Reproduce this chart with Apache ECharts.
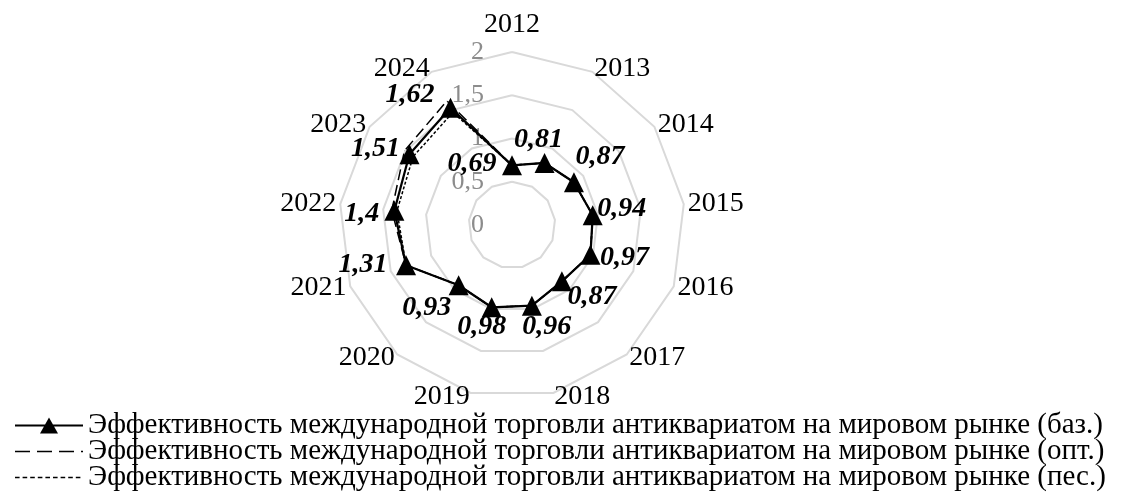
<!DOCTYPE html>
<html>
<head>
<meta charset="utf-8">
<script src="https://cdn.jsdelivr.net/npm/echarts@6/dist/echarts.min.js"></script>
<style>
  html, body { margin: 0; background: #fff; }
  #chart { width: 1122px; height: 492px; }
</style>
</head>
<body>
<div id="chart"></div>
<script>
// годы по осям (по часовой стрелке от верха)
const years = ['2012', '2013', '2014', '2015', '2016', '2017', '2018', '2019', '2020', '2021', '2022', '2023', '2024'];
const seriesNames = [
  'Эффективность международной торговли антиквариатом на мировом рынке (баз.)',
  'Эффективность международной торговли антиквариатом на мировом рынке (опт.)',
  'Эффективность международной торговли антиквариатом на мировом рынке (пес.)'
];
const valBase = [0.69, 0.81, 0.87, 0.94, 0.97, 0.87, 0.96, 0.98, 0.93, 1.31, 1.37, 1.44, 1.53];
const valOpt  = [0.69, 0.81, 0.87, 0.94, 0.97, 0.87, 0.96, 0.98, 0.93, 1.31, 1.40, 1.51, 1.62];
const valPes  = [0.69, 0.81, 0.87, 0.94, 0.97, 0.87, 0.96, 0.98, 0.93, 1.31, 1.34, 1.39, 1.47];
const axisMax = 2;

const CX = 512, CY = 225;
const FONT = '"Liberation Serif", "Times New Roman", serif';

// echarts кладёт оси против часовой — переставляем
const order = years.map((_, i) => (years.length - i) % years.length);
const pick = arr => order.map(i => arr[i]);

// смещения подписей от точки (по часовой, как years)
const labelOffsets = [[-40, -2], [-6, -23], [26, -25], [29, -6], [34, 3], [30, 15], [15, 21],
  [-10, 19], [-32, 23], [-43, 0], [-30, 3], [-29, -2], [-37, -6]];

// иконки легенды 68x17
const dot = 'M0,0h0.05v0.05h-0.05Z M67.95,16.95h0.05v0.05h-0.05Z ';
const iconBase = dot + 'M0,7.6H68V9.4H0Z M25,16.5L34,0.5L43,16.5Z';
const iconOpt = dot + 'M0,7.75h15v1.5h-15Z M22,7.75h15v1.5h-15Z M44,7.75h15v1.5h-15Z M66,7.75h2v1.5h-2Z';
let iconPes = dot;
for (let x = 0; x < 68; x += 7.6) iconPes += 'M' + x + ',7.8h4.6v1.4h-4.6Z ';

const chart = echarts.init(document.getElementById('chart'));

chart.setOption({
  animation: false,
  textStyle: { fontFamily: FONT },
  legend: {
    orient: 'vertical',
    left: 10,
    top: 406,
    height: 120,
    itemWidth: 68,
    itemHeight: 17,
    itemGap: -3,
    selectedMode: false,
    textStyle: { fontSize: 29, color: '#000', fontFamily: FONT },
    data: [
      { name: seriesNames[0], icon: 'path://' + iconBase },
      { name: seriesNames[1], icon: 'path://' + iconOpt },
      { name: seriesNames[2], icon: 'path://' + iconPes }
    ]
  },
  radar: {
    center: [CX, CY],
    radius: 173,
    startAngle: 90,
    shape: 'polygon',
    splitNumber: 4,
    nameGap: 4,
    axisName: { color: '#000', fontSize: 28, fontFamily: FONT },
    axisLine: { show: false },
    axisTick: { show: false },
    axisLabel: { show: false },
    splitArea: { show: false },
    splitLine: { lineStyle: { color: '#d9d9d9', width: 2 } },
    indicator: pick(years).map((y, k) => {
      const ind = { name: y, min: 0, max: axisMax };
      if (k === 0) {
        ind.axisLabel = {
          show: true,
          color: '#8c8c8c',
          fontSize: 26,
          fontFamily: FONT,
          margin: 28,
          formatter: v => String(v).replace('.', ',')
        };
      }
      return ind;
    })
  },
  series: [
    {
      type: 'radar',
      z: 2,
      symbol: 'none',
      lineStyle: { color: '#000', width: 1.5, type: [3, 2] },
      itemStyle: { color: '#000' },
      data: [{ name: seriesNames[2], value: pick(valPes) }]
    },
    {
      type: 'radar',
      z: 3,
      symbol: 'circle',
      symbolSize: 0.5,
      lineStyle: { color: '#000', width: 1.5, type: [11, 5] },
      itemStyle: { color: '#000' },
      label: {
        show: true,
        position: 'inside',
        color: '#000',
        fontSize: 28,
        fontWeight: 'bold',
        fontStyle: 'italic',
        fontFamily: FONT,
        formatter: p => String(p.value).replace('.', ',')
      },
      labelLayout: function (p) {
        const x = p.rect.x + p.rect.width / 2;
        const y = p.rect.y + p.rect.height / 2;
        let a = Math.atan2(x - CX, CY - y) * 180 / Math.PI;
        if (a < 0) a += 360;
        const j = Math.round(a / (360 / years.length)) % years.length;
        const o = labelOffsets[j];
        return { x: x + o[0], y: y + o[1], align: 'center', verticalAlign: 'middle' };
      },
      data: [{ name: seriesNames[1], value: pick(valOpt) }]
    },
    {
      type: 'radar',
      z: 4,
      symbol: 'triangle',
      symbolSize: 20,
      lineStyle: { color: '#000', width: 2.25, type: 'solid' },
      itemStyle: { color: '#000' },
      data: [{ name: seriesNames[0], value: pick(valBase) }]
    }
  ]
});
</script>
</body>
</html>
